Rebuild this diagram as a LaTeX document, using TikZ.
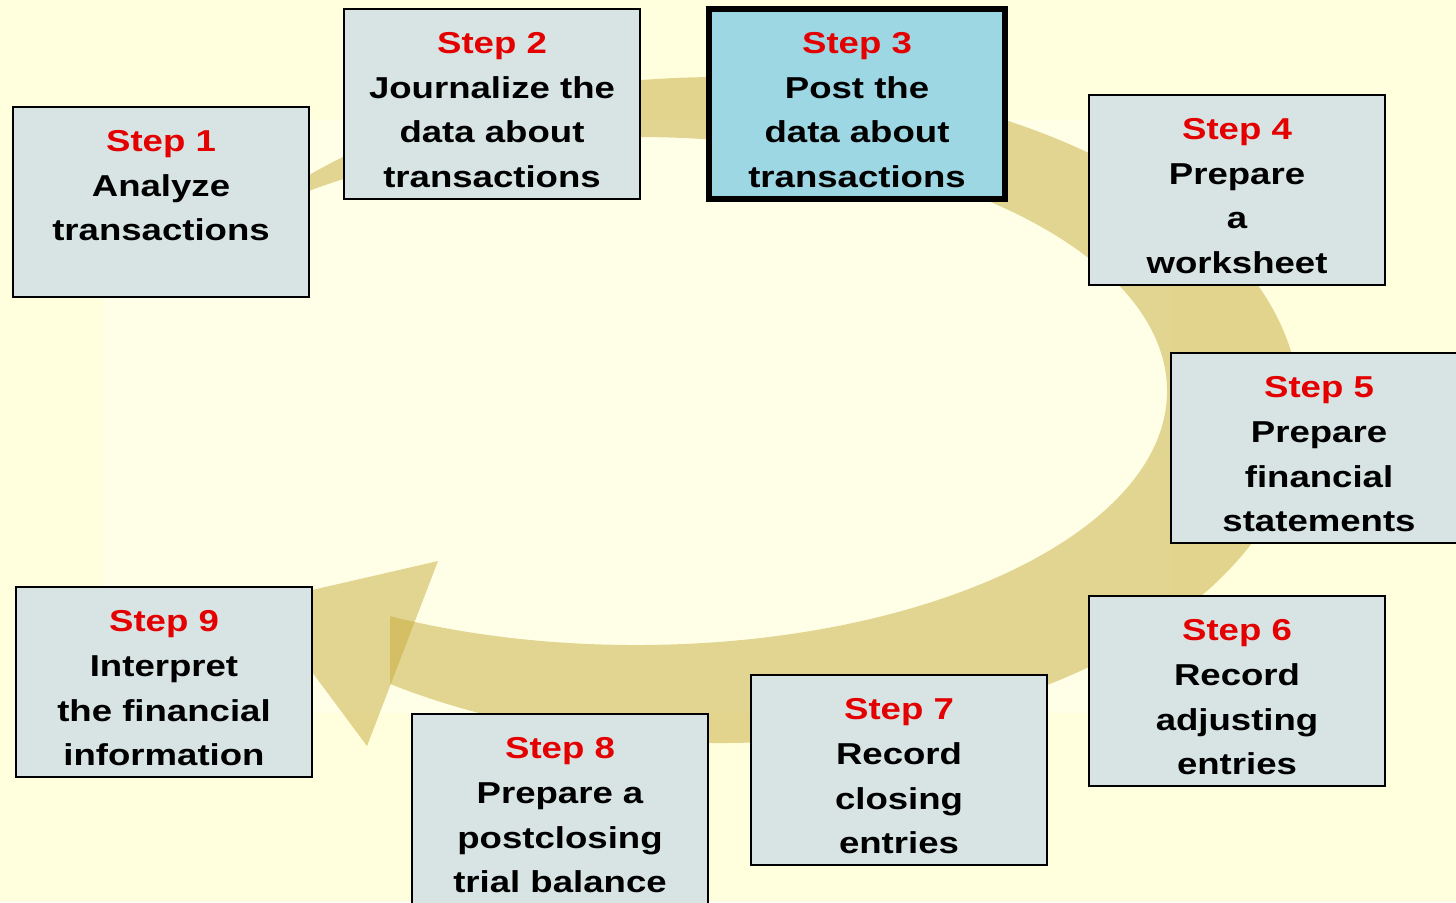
\documentclass[tikz,border=0pt]{standalone}
\usepackage{fontspec}
\setmainfont{Liberation Sans}[FakeStretch=1.21]
\usepackage{tikz}
\usetikzlibrary{calc}
\usetikzlibrary{positioning}
\definecolor{cream}{RGB}{255, 255, 222}
\definecolor{ivory}{RGB}{255, 255, 232}
\definecolor{khaki}{RGB}{199, 171, 59}
\definecolor{mist}{RGB}{215, 228, 227}
\definecolor{aqua}{RGB}{156, 215, 227}
\definecolor{crimson}{RGB}{228, 0, 0}
\newcommand{\steplines}[2]{\parbox[c][1.90cm][t]{2.90cm}{\centering\rule{0pt}{0.44cm}\textcolor{crimson}{Step #1}\\#2}}

\begin{document}
\begin{tikzpicture}[x=1cm, y=-1cm,
    stepbox/.style={draw=black, line width=0.75pt, fill=mist, inner sep=0pt,
                    minimum width=2.96cm, minimum height=1.90cm,
                    font=\fontsize{8.6}{12.8}\selectfont\bfseries},
    ring/.style={fill=khaki, fill opacity=0.5}]
    \useasboundingbox (0, 0) rectangle (14.56, 9.02);
    \fill[cream] (0, 0) rectangle (14.56, 9.02);
    \fill[ivory] (1.03, 1.20) rectangle (11.70, 7.13);
    % the ring, cut open on the left
    \begin{scope}
        \clip (3.90, 9.02) -- (3.90, 4.20) -- (2.00, 1.00) -- (2.00, 0.00)
              -- (14.56, 0.00) -- (14.56, 9.02) -- cycle;
        \fill[ring, even odd rule] (7.20, 4.10) ellipse [x radius=5.80cm, y radius=3.33cm]
                                   (6.36, 3.91) ellipse [x radius=5.31cm, y radius=2.54cm];
    \end{scope}
    \fill[ring] (4.38, 5.61) -- (3.67, 7.46) -- (2.60, 6.02) -- cycle;
    % the nine steps
    \node[stepbox] (step1) at ( 1.61, 2.02) {\steplines{1}{Analyze\\transactions}};
    \node[stepbox] (step2) at ( 4.92, 1.04) {\steplines{2}{Journalize the\\data about\\transactions}};
    \node[stepbox, fill=aqua, line width=1.85pt]
                   (step3) at ( 8.57, 1.04) {\steplines{3}{Post the\\data about\\transactions}};
    \node[stepbox] (step4) at (12.37, 1.90) {\steplines{4}{Prepare\\a\\worksheet}};
    \node[stepbox] (step5) at (13.19, 4.48) {\steplines{5}{Prepare\\financial\\statements}};
    \node[stepbox] (step6) at (12.37, 6.91) {\steplines{6}{Record\\adjusting\\entries}};
    \node[stepbox] (step7) at ( 8.99, 7.70) {\steplines{7}{Record\\closing\\entries}};
    \node[stepbox] (step8) at ( 5.60, 8.09) {\steplines{8}{Prepare a\\postclosing\\trial balance}};
    \node[stepbox] (step9) at ( 1.64, 6.82) {\steplines{9}{Interpret\\the financial\\information}};
\end{tikzpicture}
\end{document}
